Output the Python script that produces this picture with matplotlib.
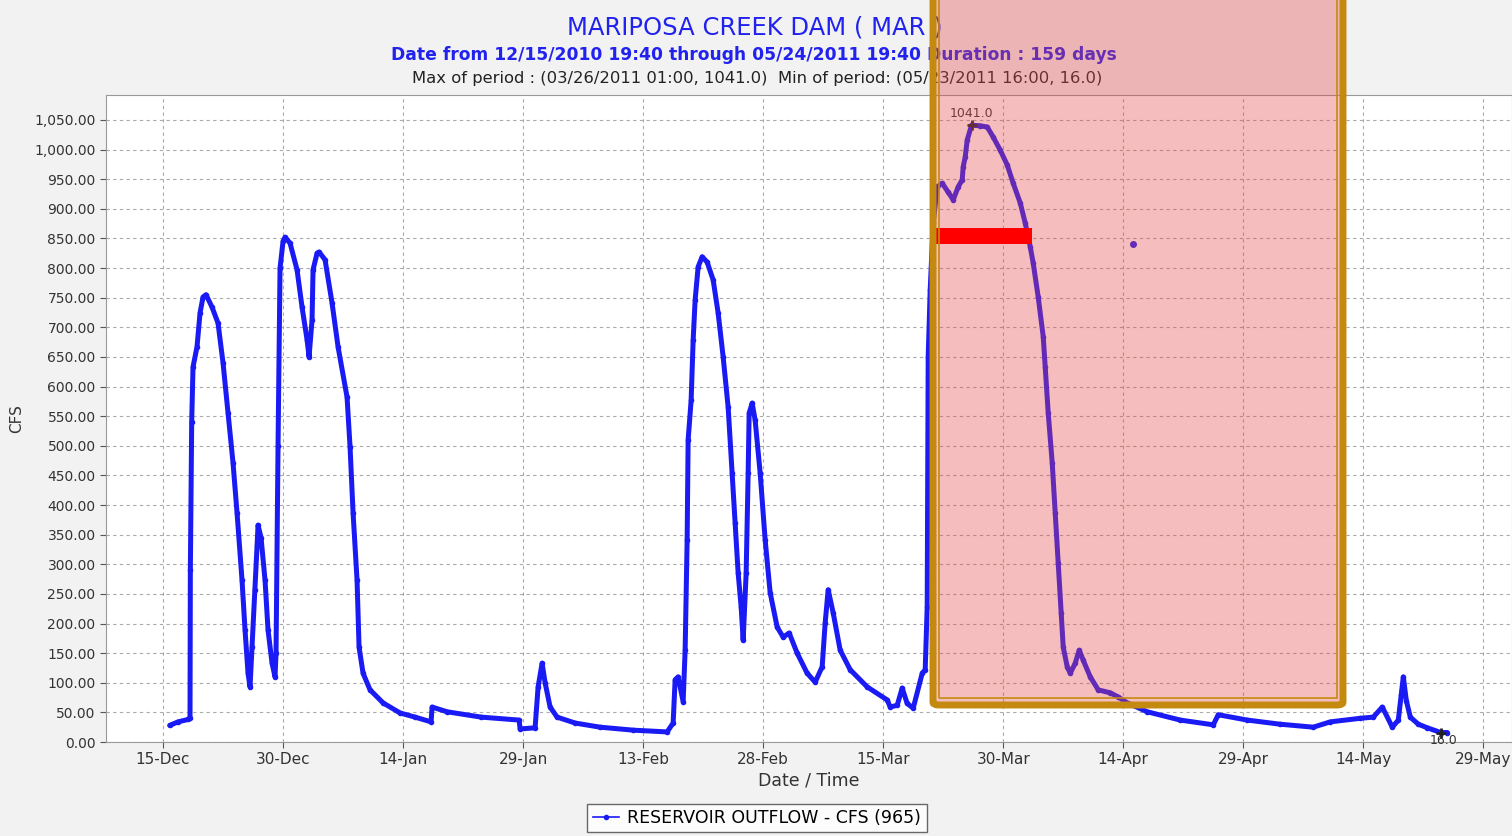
import matplotlib
matplotlib.use("Agg")
import matplotlib.pyplot as plt
import matplotlib.dates as mdates
import matplotlib.patches as mpatches
from matplotlib.lines import Line2D
from matplotlib.ticker import FuncFormatter, MultipleLocator
import pandas as pd

# reservoir outflow
TIMES = [
    "2010-12-15 20:00", "2010-12-16 21:00", "2010-12-18 03:00", "2010-12-18 09:00",
    "2010-12-18 10:00", "2010-12-18 14:00", "2010-12-18 18:00", "2010-12-19 06:00",
    "2010-12-19 15:00", "2010-12-20 00:00", "2010-12-20 09:00", "2010-12-21 03:00",
    "2010-12-21 21:00", "2010-12-22 12:00", "2010-12-23 03:00", "2010-12-23 18:00",
    "2010-12-24 06:00", "2010-12-24 21:00", "2010-12-25 06:00", "2010-12-25 15:00",
    "2010-12-25 21:00", "2010-12-26 03:00", "2010-12-26 12:00", "2010-12-26 18:00",
    "2010-12-26 21:00", "2010-12-27 06:00", "2010-12-27 18:00", "2010-12-28 03:00",
    "2010-12-28 15:00", "2010-12-29 00:00", "2010-12-29 03:00", "2010-12-29 09:00",
    "2010-12-29 15:00", "2010-12-30 00:00", "2010-12-30 06:00", "2010-12-30 21:00",
    "2010-12-31 18:00", "2011-01-01 09:00", "2011-01-02 00:00", "2011-01-02 06:00",
    "2011-01-02 15:00", "2011-01-02 18:00", "2011-01-03 06:00", "2011-01-03 12:00",
    "2011-01-04 06:00", "2011-01-05 03:00", "2011-01-05 21:00", "2011-01-07 00:00",
    "2011-01-07 09:00", "2011-01-07 18:00", "2011-01-08 06:00", "2011-01-08 12:00",
    "2011-01-09 00:00", "2011-01-09 21:00", "2011-01-11 12:00", "2011-01-13 15:00",
    "2011-01-15 12:00", "2011-01-17 12:00", "2011-01-17 15:00", "2011-01-19 12:00",
    "2011-01-23 18:00", "2011-01-28 12:00", "2011-01-28 15:00", "2011-01-30 12:00",
    "2011-01-30 21:00", "2011-01-31 09:00", "2011-01-31 18:00", "2011-02-01 09:00",
    "2011-02-02 06:00", "2011-02-04 12:00", "2011-02-07 15:00", "2011-02-11 18:00",
    "2011-02-16 00:00", "2011-02-16 18:00", "2011-02-17 00:00", "2011-02-17 09:00",
    "2011-02-18 00:00", "2011-02-18 06:00", "2011-02-18 12:00", "2011-02-18 15:00",
    "2011-02-19 00:00", "2011-02-19 06:00", "2011-02-19 12:00", "2011-02-19 21:00",
    "2011-02-20 09:00", "2011-02-21 00:00", "2011-02-21 18:00", "2011-02-22 09:00",
    "2011-02-23 00:00", "2011-02-23 15:00", "2011-02-24 03:00", "2011-02-24 12:00",
    "2011-02-24 21:00", "2011-02-25 06:00", "2011-02-25 12:00", "2011-02-25 21:00",
    "2011-02-26 03:00", "2011-02-26 06:00", "2011-02-26 15:00", "2011-02-27 00:00",
    "2011-02-27 15:00", "2011-02-28 06:00", "2011-02-28 21:00", "2011-03-01 18:00",
    "2011-03-02 12:00", "2011-03-03 06:00", "2011-03-04 06:00", "2011-03-05 12:00",
    "2011-03-06 12:00", "2011-03-07 09:00", "2011-03-07 18:00", "2011-03-08 03:00",
    "2011-03-08 18:00", "2011-03-09 15:00", "2011-03-10 21:00", "2011-03-13 00:00",
    "2011-03-15 12:00", "2011-03-15 21:00", "2011-03-16 18:00", "2011-03-17 09:00",
    "2011-03-18 00:00", "2011-03-18 18:00", "2011-03-19 21:00", "2011-03-20 06:00",
    "2011-03-20 12:00", "2011-03-20 15:00", "2011-03-20 21:00", "2011-03-21 06:00",
    "2011-03-21 18:00", "2011-03-22 09:00", "2011-03-23 03:00", "2011-03-23 18:00",
    "2011-03-24 09:00", "2011-03-24 21:00", "2011-03-25 00:00", "2011-03-25 06:00",
    "2011-03-25 12:00", "2011-03-26 01:00", "2011-03-27 03:00", "2011-03-28 00:00",
    "2011-03-28 18:00", "2011-03-29 15:00", "2011-03-30 12:00", "2011-03-31 06:00",
    "2011-04-01 03:00", "2011-04-01 18:00", "2011-04-02 09:00", "2011-04-02 18:00",
    "2011-04-03 09:00", "2011-04-04 00:00", "2011-04-04 06:00", "2011-04-04 15:00",
    "2011-04-05 03:00", "2011-04-05 12:00", "2011-04-05 21:00", "2011-04-06 06:00",
    "2011-04-06 12:00", "2011-04-07 00:00", "2011-04-07 09:00", "2011-04-08 00:00",
    "2011-04-08 12:00", "2011-04-09 00:00", "2011-04-09 21:00", "2011-04-10 21:00",
    "2011-04-12 09:00", "2011-04-13 09:00", "2011-04-14 12:00", "2011-04-17 00:00",
    "2011-04-21 03:00", "2011-04-25 06:00", "2011-04-25 21:00", "2011-04-29 12:00",
    "2011-05-03 15:00", "2011-05-07 18:00", "2011-05-09 21:00", "2011-05-13 15:00",
    "2011-05-15 06:00", "2011-05-16 09:00", "2011-05-17 15:00", "2011-05-18 09:00",
    "2011-05-18 18:00", "2011-05-19 00:00", "2011-05-19 09:00", "2011-05-19 21:00",
    "2011-05-20 21:00", "2011-05-22 00:00", "2011-05-23 16:00", "2011-05-24 12:00",
]
CFS = [
    28, 34, 38, 40,
    290, 540, 633, 667,
    724, 751, 755, 734,
    707, 640, 555, 471,
    387, 273, 189, 116,
    93, 160, 257, 330,
    366, 345, 273, 189,
    133, 110, 150, 500,
    800, 845, 852, 842,
    797, 734, 679, 650,
    712, 797, 825, 827,
    814, 741, 667, 582,
    498, 387, 273, 160,
    116, 88, 66, 49,
    42, 34, 59, 51,
    42, 37, 22, 24,
    93, 133, 100, 59,
    42, 32, 25, 20,
    17, 32, 105, 110,
    68, 155, 341, 510,
    577, 678, 746, 802,
    819, 810, 780, 724,
    650, 565, 454, 370,
    285, 228, 172, 285,
    454, 555, 572, 543,
    454, 341, 252, 194,
    177, 184, 150, 116,
    101, 127, 201, 257,
    218, 155, 122, 93,
    71, 59, 62, 91,
    65, 57, 116, 122,
    228, 650, 763, 876,
    937, 943, 928, 915,
    937, 949, 971, 987,
    1016, 1041, 1040, 1038,
    1021, 999, 974, 943,
    910, 876, 836, 808,
    751, 684, 633, 555,
    471, 387, 302, 218,
    160, 127, 116, 133,
    155, 138, 110, 88,
    83, 76, 66, 51,
    37, 29, 46, 37,
    30, 25, 34, 40,
    42, 59, 25, 37,
    80, 110, 70, 42,
    30, 24, 16, 16,
]
OUTLIER_TIME = ["2011-04-15 06:00"]
OUTLIER_CFS = [841]

MAX_TIME, MAX_VAL = "2011-03-26 01:00", 1041.0
MIN_TIME, MIN_VAL = "2011-05-23 16:00", 16.0
TICK_DATES = pd.date_range("2010-12-15", periods=12, freq="15D")

BLUE = "#1A1AF5"

t = pd.to_datetime(TIMES)

fig = plt.figure(figsize=(15.12, 8.36), dpi=100)
fig.patch.set_facecolor("#F2F2F2")
ax = fig.add_axes([106 / 1512, 1 - 742 / 836, 1 - 106 / 1512, (742 - 95) / 836])
ax.set_facecolor("white")

ax.plot(t, CFS, color=BLUE, linewidth=3.6, marker="o", markersize=3,
        solid_joinstyle="round", solid_capstyle="round", zorder=3)
ax.plot(pd.to_datetime(OUTLIER_TIME), OUTLIER_CFS, "o", color=BLUE,
        markersize=4, zorder=3)

# max / min markers and labels
ax.plot(pd.to_datetime([MAX_TIME, MIN_TIME]), [MAX_VAL, MIN_VAL], "+",
        color="#222222", markersize=7, mew=2, zorder=4)
ax.annotate(f"{MAX_VAL:.1f}", (pd.Timestamp(MAX_TIME), MAX_VAL),
            xytext=(0, 4), textcoords="offset points", ha="center",
            va="bottom", fontsize=9, color="#333333")
ax.annotate(f"{MIN_VAL:.1f}", (pd.Timestamp(MIN_TIME), MIN_VAL),
            xytext=(2, -1), textcoords="offset points", ha="center",
            va="top", fontsize=9, color="#333333")

ax.set_xlim(pd.Timestamp("2010-12-07 21:00"), pd.Timestamp("2011-06-01 14:00"))
ax.set_ylim(0, 1092)
ax.yaxis.set_major_locator(MultipleLocator(50))
ax.yaxis.set_major_formatter(FuncFormatter(lambda v, p: f"{v:,.2f}"))
ax.set_xticks(TICK_DATES)
ax.xaxis.set_major_formatter(mdates.DateFormatter("%d-%b"))
ax.tick_params(axis="y", labelsize=10, colors="#555555", length=4,
               labelcolor="#333333")
ax.tick_params(axis="x", labelsize=11, colors="#555555", length=4,
               labelcolor="#333333")
ax.grid(True, color="#AAAAAA", linestyle=(0, (3, 3)), linewidth=0.8)
for s in ax.spines.values():
    s.set_color("#999999")
ax.set_xlabel("Date / Time", fontsize=12.5, color="#333333", labelpad=3)
ax.set_ylabel("CFS", fontsize=11, color="#333333", labelpad=7)

fig.text(755 / 1512, 1 - 27 / 836, "MARIPOSA CREEK DAM ( MAR )", ha="center",
         va="center", fontsize=17.5, color="#2222EE", zorder=3)
fig.text(754 / 1512, 1 - 55 / 836,
         "Date from 12/15/2010 19:40 through 05/24/2011 19:40 Duration : 159 days",
         ha="center", va="center", fontsize=12.3, fontweight="bold",
         color="#2222EE", zorder=3)
fig.text(757 / 1512, 1 - 78 / 836,
         "Max of period : (03/26/2011 01:00, 1041.0)  Min of period: (05/23/2011 16:00, 16.0)",
         ha="center", va="center", fontsize=11.8, color="#222222", zorder=3)

handle = Line2D([], [], color=BLUE, marker="o", markersize=3, linewidth=1.2)
leg = fig.legend([handle], ["RESERVOIR OUTFLOW - CFS (965)"],
                 loc="center", bbox_to_anchor=(757 / 1512, 1 - 818 / 836),
                 fontsize=12.5, frameon=True, fancybox=False, handlelength=1.5,
                 borderpad=0.3, handletextpad=0.5)
leg.get_frame().set_edgecolor("#444444")
leg.get_frame().set_facecolor("white")

# highlight box drawn over the chart
W, H = 1512, 836
fig.patches.append(mpatches.Rectangle(
    (930 / W, 1 - 706 / H), (1346 - 930) / W, 720 / H,
    transform=fig.transFigure, facecolor="#E44848", alpha=0.36,
    edgecolor="none", zorder=5))
fig.patches.append(mpatches.Rectangle(
    (935 / W, 1 - 244 / H), (1032 - 935) / W, 16 / H,
    transform=fig.transFigure, facecolor="#FF0000", edgecolor="none",
    zorder=6))
fig.patches.append(mpatches.FancyBboxPatch(
    (933 / W, 1 - 705 / H), (1343 - 933) / W, 720 / H,
    boxstyle="round,pad=0,rounding_size=0.004",
    transform=fig.transFigure, facecolor="none", edgecolor="#C48A10",
    linewidth=5, zorder=7))
fig.patches.append(mpatches.Rectangle(
    (938.5 / W, 1 - 698 / H), (1336.5 - 938.5) / W, 720 / H,
    transform=fig.transFigure, facecolor="none", edgecolor="#C48A10",
    linewidth=1.2, zorder=7))

fig.savefig("out.png", dpi=100, facecolor=fig.get_facecolor())
